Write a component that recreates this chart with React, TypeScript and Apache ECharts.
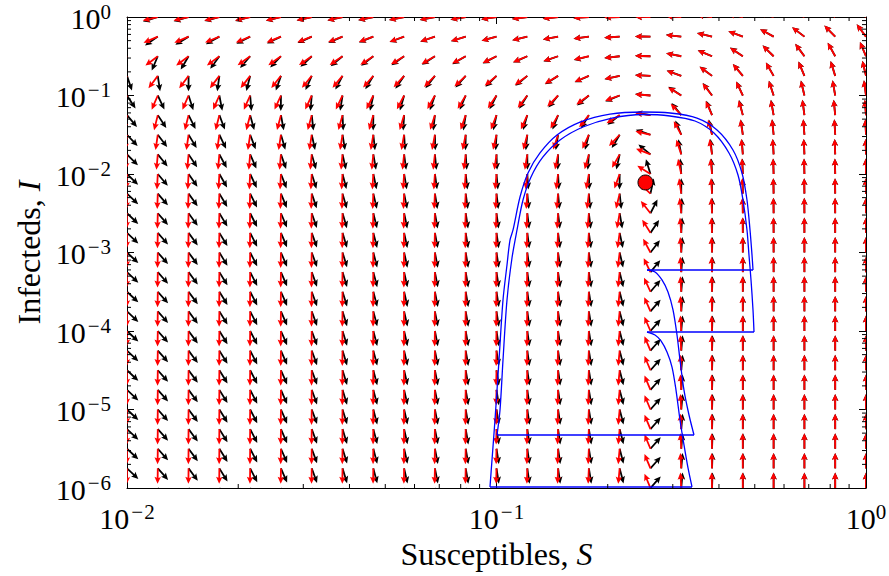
import React, { useEffect, useRef } from "react";
import * as echarts from "echarts";

// ---------- axes ----------
const X_MIN = 0.01;
const X_MAX = 1;
const Y_MIN = 1e-6;
const Y_MAX = 1;
const X_DECADES = [-2, -1];          // decades that carry minor ticks
const Y_DECADES = [-6, -5, -4, -3, -2, -1];
const MINOR_MANTISSAS = [2, 3, 4, 5, 6, 7, 8, 9];

// ---------- quiver grid (25 x 25, log spaced) ----------
const GRID_N = 25;
const S_EXP_RANGE = [-2, 0];
const I_EXP_RANGE = [-6, 0];

// ---------- model parameters estimated from the arrow directions ----------
const BETA = 4;       // transmission
const GAMMA = 1;      // recovery
const MU = 0.0105;    // birth / death rate (black field)
const NU_RED = 0.014; // outflow of susceptibles (red field)

// ---------- blue trajectory (log10 S, log10 I) ----------
const PATH_LOG_S = [
  -1.0176, -1.0122, -1.0041, -0.9932, -0.9824, -0.9716, -0.9635, -0.9553, -0.9364, -0.9147,
  -0.8823, -0.8363, -0.774, -0.6928, -0.6035, -0.5304, -0.4574, -0.4032, -0.36, -0.3356,
  -0.3221, -0.3139, -0.3085, -0.3058, -0.5927, -0.571, -0.5521, -0.5359, -0.5223, -0.5115,
  -0.5034, -0.4926, -0.479, -0.4655, -0.9986, -0.9905, -0.9824, -0.9716, -0.9581, -0.9445,
  -0.9283, -0.9066, -0.8742, -0.8281, -0.7659, -0.6874, -0.6035, -0.5304, -0.4628, -0.4114,
  -0.3708, -0.3464, -0.3329, -0.3221, -0.3167, -0.3112, -0.3058, -0.3031, -0.5927, -0.571,
  -0.5548, -0.5386, -0.525, -0.5142, -0.5034, -0.4926, -0.4817, -0.4709, -1.0176,
];
const PATH_LOG_I = [
  -5.987, -5.643, -5.134, -4.369, -3.605, -3.159, -2.841, -2.713, -2.293, -1.987,
  -1.732, -1.503, -1.338, -1.236, -1.21, -1.223, -1.287, -1.439, -1.694, -1.987,
  -2.331, -2.713, -3.032, -3.223, -3.223, -3.248, -3.35, -3.503, -3.732, -4.051,
  -4.369, -4.752, -5.07, -5.325, -5.325, -5.006, -4.369, -3.605, -3.07, -2.713,
  -2.331, -2.038, -1.783, -1.567, -1.401, -1.287, -1.242, -1.261, -1.325, -1.478,
  -1.732, -2.013, -2.331, -2.713, -3.032, -3.35, -3.732, -4.013, -4.013, -4.051,
  -4.127, -4.268, -4.459, -4.752, -5.134, -5.452, -5.745, -5.987, -5.987,
];
// pieces of the path: [first index, last index, curved?]
const PATH_PIECES: [number, number, boolean][] = [
  [0, 23, true],
  [23, 24, false],
  [24, 33, true],
  [33, 34, false],
  [34, 57, true],
  [57, 58, false],
  [58, 67, true],
  [67, 68, false],
];

// ---------- equilibrium point ----------
const EQUILIBRIUM: [number, number] = [0.253, 0.0078];

// ---------- styling ----------
const SERIF = '"Liberation Serif", "DejaVu Serif", serif';
const RED = "#ff0000";
const BLACK = "#000000";
const BLUE = "#0000ff";

const ARROW_LEN = 15.5;
const SHAFT_W = 1.8;
const HEAD_W = 6.4;
const HEAD_L = 7;
const HEAD_AX_L = 6;

function logspace(a: number, b: number, n: number) {
  return Array.from({ length: n }, (_, k) => 10 ** (a + ((b - a) * k) / (n - 1)));
}

const S_GRID = logspace(S_EXP_RANGE[0], S_EXP_RANGE[1], GRID_N);
const I_GRID = logspace(I_EXP_RANGE[0], I_EXP_RANGE[1], GRID_N);

function redField(S: number, I: number) {
  return [-BETA * I - NU_RED, BETA * S - GAMMA - MU];
}
function blackField(S: number, I: number) {
  return [MU * (1 / S - 1) - BETA * I, BETA * S - GAMMA - MU];
}

function buildQuiver(field: (S: number, I: number) => number[]) {
  const out: number[][] = [];
  for (const S of S_GRID) {
    for (const I of I_GRID) {
      const [u, v] = field(S, I);
      out.push([S, I, u, v]);
    }
  }
  return out;
}

const ARROW_SHAPE: number[][] = [
  [0, -SHAFT_W / 2],
  [ARROW_LEN - HEAD_AX_L, -SHAFT_W / 2],
  [ARROW_LEN - HEAD_L, -HEAD_W / 2],
  [ARROW_LEN, 0],
  [ARROW_LEN - HEAD_L, HEAD_W / 2],
  [ARROW_LEN - HEAD_AX_L, SHAFT_W / 2],
  [0, SHAFT_W / 2],
];

function arrowRenderer(color: string) {
  return (params: any, api: any) => {
    const S = api.value(0);
    const I = api.value(1);
    const u = api.value(2);
    const v = api.value(3);
    const p = api.coord([S, I]);
    const n = Math.hypot(u, v) || 1;
    const cx = u / n;
    const cy = -v / n;
    const points = ARROW_SHAPE.map(([a, b]) => [
      p[0] + a * cx - b * cy,
      p[1] + a * cy + b * cx,
    ]);
    return {
      type: "polygon",
      shape: { points },
      style: { fill: color, stroke: null },
    };
  };
}

function minorValues(decades: number[]) {
  const vals: number[] = [];
  for (const d of decades) for (const m of MINOR_MANTISSAS) vals.push(m * 10 ** d);
  return vals;
}

const X_MINOR = minorValues(X_DECADES);
const Y_MINOR = minorValues(Y_DECADES);
const MINOR_LEN = 4;

function supLabel(value: number) {
  const e = Math.round(Math.log10(value));
  if (e < 0) return `{b|10}{m|\u2212}{s|${-e}}`;
  return `{b|10}{s|${e}}`;
}

const tickRich = {
  b: { fontFamily: SERIF, fontSize: 30, color: "#000", verticalAlign: "bottom", lineHeight: 32 },
  m: { fontFamily: SERIF, fontSize: 21, color: "#000", verticalAlign: "top", lineHeight: 22, padding: [0, 1, 0, 2] },
  s: { fontFamily: SERIF, fontSize: 21, color: "#000", verticalAlign: "top", lineHeight: 22 },
};

const nameRich = {
  n: { fontFamily: SERIF, fontSize: 32, color: "#000" },
  i: { fontFamily: SERIF, fontSize: 32, color: "#000", fontStyle: "italic" },
};

function baseAxis(type: "x" | "y", pos: string, primary: boolean) {
  const isX = type === "x";
  return {
    type: "log",
    logBase: 10,
    min: isX ? X_MIN : Y_MIN,
    max: isX ? X_MAX : Y_MAX,
    position: pos,
    axisLine: { show: true, onZero: false, lineStyle: { color: "#000", width: 1 } },
    axisTick: { show: true, inside: true, length: 7, lineStyle: { color: "#000", width: 1 } },
    minorTick: { show: false },
    splitLine: { show: false },
    axisLabel: primary
      ? {
          show: true,
          formatter: supLabel,
          rich: tickRich,
          margin: isX ? 13 : 16,
          showMinLabel: true,
          showMaxLabel: true,
        }
      : { show: false },
  };
}

export default function App() {
  const ref = useRef<HTMLDivElement>(null);

  useEffect(() => {
    if (!ref.current) return;
    const chart = echarts.init(ref.current, null, { renderer: "svg" });

    const pathData = PATH_LOG_S.map((ls, k) => [10 ** ls, 10 ** PATH_LOG_I[k]]);
    const pathSeries = PATH_PIECES.map(([a, b, curved], k) => ({
      name: "trajectory " + k,
      type: "line",
      xAxisIndex: 0,
      yAxisIndex: 0,
      z: 4,
      silent: true,
      showSymbol: false,
      symbol: "none",
      smooth: curved ? 0.3 : false,
      lineStyle: { color: BLUE, width: 1.3 },
      data: pathData.slice(a, b + 1),
    }));

    const option: any = {
      animation: false,
      backgroundColor: "#ffffff",
      grid: { left: 127, right: 23, top: 17, bottom: 88, containLabel: false, outerBoundsMode: "none" },
      xAxis: [
        {
          ...baseAxis("x", "bottom", true),
          name: "{n|Susceptibles, }{i|S}",
          nameLocation: "middle",
          nameGap: 42,
          nameTextStyle: { rich: nameRich, fontFamily: SERIF, fontSize: 32 },
        },
        baseAxis("x", "top", false),
      ],
      yAxis: [
        {
          ...baseAxis("y", "left", true),
          name: "{n|Infecteds, }{i|I}",
          nameLocation: "middle",
          nameRotate: 90,
          nameGap: 80,
          nameTextStyle: { rich: nameRich, fontFamily: SERIF, fontSize: 32 },
        },
        baseAxis("y", "right", false),
      ],
      series: [
        {
          name: "black field",
          type: "custom",
          xAxisIndex: 0,
          yAxisIndex: 0,
          clip: true,
          silent: true,
          z: 2,
          encode: { x: 0, y: 1 },
          renderItem: arrowRenderer(BLACK),
          data: buildQuiver(blackField),
        },
        {
          name: "red field",
          type: "custom",
          xAxisIndex: 0,
          yAxisIndex: 0,
          clip: true,
          silent: true,
          z: 3,
          encode: { x: 0, y: 1 },
          renderItem: arrowRenderer(RED),
          data: buildQuiver(redField),
        },
        ...pathSeries,
        {
          name: "equilibrium",
          type: "scatter",
          xAxisIndex: 0,
          yAxisIndex: 0,
          z: 5,
          silent: true,
          symbol: "circle",
          symbolSize: 15,
          itemStyle: { color: RED, borderColor: "#000", borderWidth: 1, opacity: 1 },
          data: [EQUILIBRIUM],
        },
        {
          name: "x minor ticks",
          type: "custom",
          xAxisIndex: 0,
          yAxisIndex: 0,
          silent: true,
          z: 6,
          encode: { x: 0, y: 1 },
          renderItem: (params: any, api: any) => {
            const cs = params.coordSys;
            const p = api.coord([api.value(0), 1e-3]);
            return {
              type: "group",
              children: [
                { type: "line", shape: { x1: p[0], y1: cs.y + cs.height, x2: p[0], y2: cs.y + cs.height - MINOR_LEN }, style: { stroke: "#000", lineWidth: 1 } },
                { type: "line", shape: { x1: p[0], y1: cs.y, x2: p[0], y2: cs.y + MINOR_LEN }, style: { stroke: "#000", lineWidth: 1 } },
              ],
            };
          },
          data: X_MINOR.map((v) => [v, 1e-3]),
        },
        {
          name: "y minor ticks",
          type: "custom",
          xAxisIndex: 0,
          yAxisIndex: 0,
          silent: true,
          z: 6,
          encode: { x: 0, y: 1 },
          renderItem: (params: any, api: any) => {
            const cs = params.coordSys;
            const p = api.coord([0.1, api.value(1)]);
            return {
              type: "group",
              children: [
                { type: "line", shape: { x1: cs.x, y1: p[1], x2: cs.x + MINOR_LEN, y2: p[1] }, style: { stroke: "#000", lineWidth: 1 } },
                { type: "line", shape: { x1: cs.x + cs.width, y1: p[1], x2: cs.x + cs.width - MINOR_LEN, y2: p[1] }, style: { stroke: "#000", lineWidth: 1 } },
              ],
            };
          },
          data: Y_MINOR.map((v) => [0.1, v]),
        },
      ],
    };

    chart.setOption(option);
    return () => chart.dispose();
  }, []);

  return (
    <div
      ref={ref}
      style={{ position: "absolute", left: 0, top: 0, width: 889, height: 576, background: "#fff" }}
    />
  );
}
